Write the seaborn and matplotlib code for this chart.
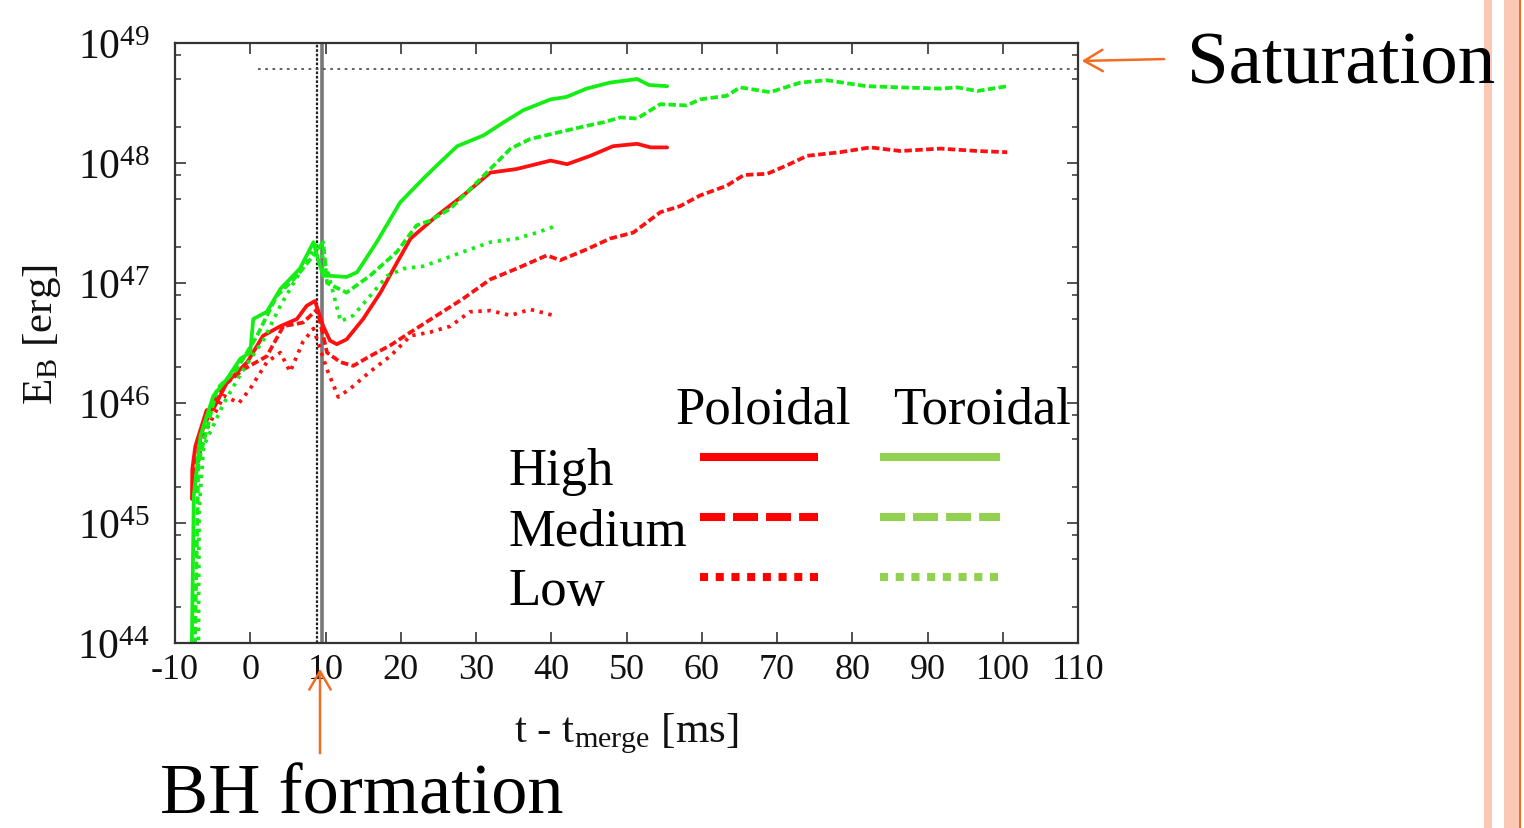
import numpy as np
import pandas as pd
import matplotlib
matplotlib.use("Agg")
import matplotlib.pyplot as plt
import seaborn as sns
from matplotlib.lines import Line2D
from matplotlib.patches import Rectangle, FancyArrowPatch
from matplotlib.ticker import LogLocator, FixedLocator, LogFormatterMathtext, NullFormatter

# ---------------- data (t - t_merge [ms], log10 E_B [erg]) ----------------
t_tor_high = [-7.8, -7.5, -6.6, -4.9, -3.1, -1.3, 0.0, 0.4, 2.2, 4.0, 6.6, 8.4, 9.0, 9.7, 10.6, 12.8,
              14.2, 16.8, 19.9, 23.0, 24.8, 27.5, 31.0, 33.7, 36.3, 39.9, 42.0, 44.7, 47.8, 51.4, 53.0, 55.4]
e_tor_high = [43.8, 45.23, 45.73, 46.06, 46.2, 46.37, 46.42, 46.7, 46.76, 46.95, 47.12, 47.34, 47.2, 47.06,
              47.06, 47.05, 47.09, 47.34, 47.67, 47.87, 47.98, 48.14, 48.23, 48.34, 48.44, 48.53, 48.55,
              48.62, 48.67, 48.70, 48.65, 48.64]

t_tor_med = [-7.4, -6.9, -4.4, -1.8, 0.9, 3.5, 6.2, 8.4, 8.9, 9.7, 10.2, 12.8, 15.9, 19.5, 22.1, 23.9,
             26.6, 29.2, 31.9, 34.6, 37.2, 39.9, 44.7, 47.0, 49.2, 51.4, 54.5, 58.0, 59.8, 63.3, 65.1,
             69.1, 73.1, 76.6, 81.9, 86.4, 91.7, 94.0, 96.6, 100.6]
e_tor_med = [43.8, 45.5, 46.12, 46.28, 46.56, 46.89, 47.06, 47.23, 47.28, 47.34, 47.0, 46.92, 47.06,
             47.26, 47.48, 47.52, 47.62, 47.78, 47.95, 48.12, 48.2, 48.24, 48.31, 48.34, 48.38, 48.37,
             48.49, 48.48, 48.53, 48.56, 48.63, 48.59, 48.67, 48.69, 48.64, 48.63, 48.62, 48.63, 48.6, 48.64]

t_tor_low = [-6.9, -6.8, -6.2, -3.5, -0.9, 1.8, 4.0, 6.6, 8.4, 8.9, 10.2, 12.0, 13.7, 15.9, 18.2, 20.4,
             23.0, 25.7, 28.3, 31.9, 35.4, 38.1, 40.8]
e_tor_low = [43.8, 45.1, 45.64, 46.0, 46.28, 46.53, 46.81, 47.09, 47.28, 47.34, 47.12, 46.68, 46.73,
             46.89, 47.06, 47.12, 47.14, 47.2, 47.26, 47.34, 47.37, 47.42, 47.48]

t_pol_high = [-7.75, -7.7, -7.3, -6.6, -5.8, -4.9, -3.1, -0.4, 1.7, 4.0, 6.2, 7.5, 8.6, 9.7, 10.6, 11.5,
              12.8, 15.0, 17.3, 19.5, 21.3, 24.8, 28.3, 31.9, 35.4, 39.9, 42.1, 45.2, 48.2, 51.4, 53.2, 55.4]
e_pol_high = [45.2, 45.45, 45.64, 45.78, 45.94, 45.95, 46.17, 46.34, 46.56, 46.64, 46.70, 46.81, 46.85,
              46.64, 46.52, 46.49, 46.53, 46.70, 46.92, 47.17, 47.37, 47.56, 47.73, 47.92, 47.95, 48.02,
              47.99, 48.06, 48.14, 48.16, 48.13, 48.13]

t_pol_med = [-7.4, -6.5, -4.0, -0.9, 2.2, 4.4, 7.0, 8.9, 10.2, 12.0, 13.7, 15.9, 18.6, 21.3, 24.8, 28.3,
             31.9, 35.4, 39.4, 41.2, 44.7, 47.8, 50.9, 54.5, 57.1, 59.8, 63.3, 65.6, 68.7, 71.3, 74.0,
             78.4, 82.4, 86.4, 91.7, 96.6, 100.6]
e_pol_med = [45.4, 45.75, 46.12, 46.28, 46.39, 46.64, 46.67, 46.78, 46.42, 46.34, 46.31, 46.39, 46.48,
             46.59, 46.73, 46.87, 47.03, 47.12, 47.23, 47.19, 47.28, 47.37, 47.42, 47.59, 47.64, 47.73,
             47.81, 47.90, 47.91, 47.98, 48.06, 48.09, 48.13, 48.10, 48.12, 48.10, 48.09]

t_pol_low = [-7.0, -6.2, -3.5, -1.5, 0.0, 2.2, 4.0, 5.3, 7.0, 8.4, 9.3, 10.2, 11.7, 13.3, 15.9, 18.6,
             21.3, 23.9, 26.6, 29.2, 31.9, 34.6, 37.2, 40.3]
e_pol_low = [45.5, 45.73, 46.06, 46.0, 46.12, 46.34, 46.42, 46.26, 46.51, 46.62, 46.45, 46.28, 46.05,
             46.12, 46.26, 46.39, 46.56, 46.59, 46.64, 46.76, 46.77, 46.73, 46.78, 46.73]

components = ["Poloidal", "Toroidal"]
levels = ["High", "Medium", "Low"]
t_bh_dotted = 8.85
t_bh_solid = 9.6
saturation_log = 48.78
saturation_start = 1.0
x_ticks = list(range(-10, 111, 10))
y_decades = [44, 45, 46, 47, 48, 49]

series = {
    ("Toroidal", "High"): (t_tor_high, e_tor_high),
    ("Toroidal", "Medium"): (t_tor_med, e_tor_med),
    ("Toroidal", "Low"): (t_tor_low, e_tor_low),
    ("Poloidal", "High"): (t_pol_high, e_pol_high),
    ("Poloidal", "Medium"): (t_pol_med, e_pol_med),
    ("Poloidal", "Low"): (t_pol_low, e_pol_low),
}
rows = []
for (comp, lev), (ts, es) in series.items():
    for t, e in zip(ts, es):
        rows.append({"t": t, "E": 10.0 ** e, "component": comp, "level": lev, "id": comp + lev})
df = pd.DataFrame(rows)

# ---------------- style ----------------
sns.set_theme(style="ticks")
plt.rcParams["font.family"] = ["Liberation Serif", "DejaVu Serif"]
plt.rcParams["mathtext.fontset"] = "custom"
plt.rcParams["mathtext.rm"] = "Liberation Serif"
plt.rcParams["mathtext.it"] = "Liberation Serif:italic"
plt.rcParams["mathtext.default"] = "regular"

W, H = 1524, 829
fig = plt.figure(figsize=(W / 100, H / 100), dpi=100)
fig.patch.set_facecolor("white")

def fx(px):
    return px / W

def fy(py):
    return 1 - py / H

ax = fig.add_axes([fx(175), fy(644), fx(1078) - fx(175), fy(44) - fy(644)])

plot_colors = {"Poloidal": "#ff1010", "Toroidal": "#14ee14"}
plot_dashes = {"High": "", "Medium": (2.0, 0.9), "Low": (0.9, 1.5)}

sns.lineplot(data=df, x="t", y="E", hue="component", style="level", units="id", estimator=None,
             sort=False, palette=plot_colors, dashes=plot_dashes, hue_order=components,
             style_order=levels, linewidth=2.7, legend=False, ax=ax)

ax.set_yscale("log")
ax.set_xlim(-10, 110)
ax.set_ylim(10.0 ** 44, 10.0 ** 49)

# BH formation & saturation guides
ax.axvline(t_bh_dotted, color="#222222", lw=1.6, dashes=(1.2, 0.8), zorder=1)
ax.axvline(t_bh_solid, color="#777777", lw=2.6, zorder=1)
ax.hlines(10.0 ** saturation_log, saturation_start, 110, color="#555555", lw=1.3,
          linestyles=(0, (1.5, 2.5)), zorder=1)

# ticks
ax.xaxis.set_major_locator(FixedLocator(x_ticks))
ax.set_xticklabels([str(v) for v in x_ticks])
ax.yaxis.set_major_locator(FixedLocator([10.0 ** d for d in y_decades]))
ax.yaxis.set_major_formatter(LogFormatterMathtext())
ax.yaxis.set_minor_locator(LogLocator(base=10, subs=[2, 5, 8]))
ax.yaxis.set_minor_formatter(NullFormatter())
ax.tick_params(axis="both", which="major", direction="in", length=8, width=1.2, color="#333333",
               top=True, right=True, labelcolor="#111111")
ax.tick_params(axis="x", which="major", labelsize=26, pad=7)
ax.tick_params(axis="y", which="major", labelsize=30, pad=18)
ax.tick_params(axis="y", which="minor", direction="in", length=4, width=1.1, color="#333333",
               right=True, left=True)
ax.tick_params(axis="x", which="minor", bottom=False, top=False)
for sp in ax.spines.values():
    sp.set_visible(True)
    sp.set_linewidth(1.6)
    sp.set_color("#333333")

ax.set_xlabel("t - t$_{\\mathrm{merge}}$ [ms]", fontsize=31, color="#111111")
ax.set_ylabel("E$_{\\mathrm{B}}$ [erg]", fontsize=31, color="#111111")
ax.xaxis.set_label_coords(0.5, -0.113)
ax.yaxis.set_label_coords(-0.124, 0.515)

# ---------------- custom legend ----------------
legend_colors = {"Poloidal": "#ff0000", "Toroidal": "#92d050"}
legend_dashes = {"High": None, "Medium": (3.1, 1.0), "Low": (1.0, 0.95)}
col_x = {"Poloidal": (700, 818), "Toroidal": (880, 1000)}
head_x = {"Poloidal": 675, "Toroidal": 893}
row_y = {"High": 458, "Medium": 518, "Low": 578}
for comp in components:
    fig.text(fx(head_x[comp]), fy(423), comp, fontsize=38, va="baseline", ha="left", color="black")
for lev in levels:
    fig.text(fx(508), fy(row_y[lev] + 27), lev, fontsize=38, va="baseline", ha="left", color="black")
    for comp in components:
        x0, x1 = col_x[comp]
        ln = Line2D([fx(x0), fx(x1)], [fy(row_y[lev]), fy(row_y[lev])], transform=fig.transFigure,
                    color=legend_colors[comp], lw=5.8, solid_capstyle="butt", dash_capstyle="butt")
        if legend_dashes[lev] is not None:
            ln.set_dashes(legend_dashes[lev])
        fig.add_artist(ln)

# ---------------- annotations ----------------
orange = "#f36c21"
fig.text(fx(1187), fy(83), "Saturation", fontsize=54, va="baseline", ha="left", color="black")
fig.text(fx(160), fy(814), "BH formation", fontsize=52, va="baseline", ha="left", color="black")
fig.add_artist(FancyArrowPatch((fx(1167), fy(60)), (fx(1079), fy(62)), transform=fig.transFigure,
                               arrowstyle="->,head_length=0.6,head_width=0.35", mutation_scale=22,
                               color=orange, lw=1.8))
fig.add_artist(FancyArrowPatch((fx(320), fy(757)), (fx(320), fy(667)), transform=fig.transFigure,
                               arrowstyle="->,head_length=0.6,head_width=0.35", mutation_scale=22,
                               color=orange, lw=1.8))

# decorative slide bars on the right
fig.add_artist(Rectangle((fx(1484), 0), fx(8), 1, transform=fig.transFigure, color="#fac8b4", lw=0))
fig.add_artist(Rectangle((fx(1504), 0), fx(15), 1, transform=fig.transFigure, color="#fac8b4", lw=0))
fig.add_artist(Rectangle((fx(1519), 0), fx(2), 1, transform=fig.transFigure, color=orange, lw=0))

fig.savefig("out.png", dpi=100)
